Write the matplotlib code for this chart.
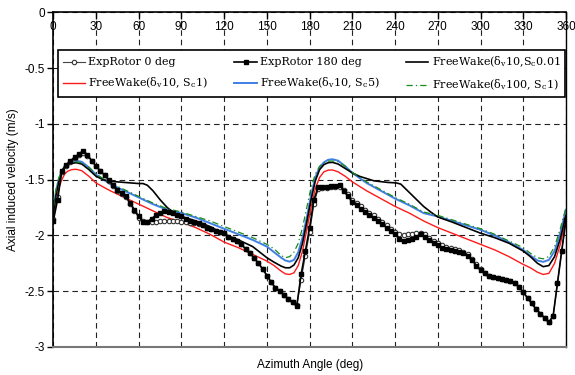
import matplotlib
matplotlib.use("Agg")
import matplotlib.pyplot as plt
from matplotlib.ticker import FuncFormatter

# measured data (every 3 deg)
exp_angle = list(range(0, 361, 3))

exp_180 = [-1.87, -1.68, -1.42, -1.37, -1.33, -1.30, -1.27, -1.24, -1.28, -1.33,
           -1.38, -1.42, -1.46, -1.50, -1.55, -1.59, -1.62, -1.65, -1.71, -1.77,
           -1.83, -1.88, -1.88, -1.85, -1.82, -1.80, -1.78, -1.79, -1.80, -1.82,
           -1.83, -1.85, -1.87, -1.88, -1.89, -1.91, -1.93, -1.94, -1.96, -1.97,
           -1.98, -2.01, -2.03, -2.05, -2.08, -2.12, -2.16, -2.20, -2.25, -2.30,
           -2.36, -2.42, -2.47, -2.50, -2.53, -2.57, -2.60, -2.63, -2.35, -2.14,
           -1.93, -1.68, -1.57, -1.57, -1.57, -1.56, -1.56, -1.55, -1.60, -1.65,
           -1.70, -1.73, -1.76, -1.79, -1.82, -1.84, -1.87, -1.90, -1.93, -1.96,
           -1.99, -2.03, -2.05, -2.04, -2.03, -2.01, -1.99, -2.01, -2.04, -2.07,
           -2.09, -2.11, -2.12, -2.13, -2.14, -2.15, -2.16, -2.18, -2.22, -2.27,
           -2.31, -2.34, -2.36, -2.37, -2.38, -2.39, -2.40, -2.41, -2.43, -2.46,
           -2.51, -2.56, -2.61, -2.66, -2.70, -2.74, -2.78, -2.72, -2.43, -2.14,
           -1.86]

exp_0 = [-1.85, -1.66, -1.43, -1.38, -1.34, -1.31, -1.28, -1.26, -1.29, -1.33,
         -1.38, -1.42, -1.46, -1.51, -1.56, -1.60, -1.63, -1.66, -1.72, -1.78,
         -1.84, -1.87, -1.88, -1.88, -1.88, -1.87, -1.87, -1.87, -1.87, -1.87,
         -1.88, -1.88, -1.89, -1.89, -1.90, -1.91, -1.93, -1.94, -1.96, -1.97,
         -1.98, -2.01, -2.03, -2.05, -2.08, -2.12, -2.16, -2.20, -2.25, -2.30,
         -2.36, -2.42, -2.47, -2.50, -2.53, -2.57, -2.60, -2.62, -2.40, -2.18,
         -1.97, -1.72, -1.58, -1.575, -1.575, -1.57, -1.57, -1.565, -1.59, -1.63,
         -1.68, -1.71, -1.74, -1.77, -1.80, -1.82, -1.85, -1.88, -1.91, -1.94,
         -1.97, -1.99, -2.00, -1.99, -1.99, -1.98, -1.98, -1.99, -2.02, -2.05,
         -2.07, -2.09, -2.10, -2.11, -2.12, -2.13, -2.15, -2.17, -2.21, -2.26,
         -2.30, -2.34, -2.36, -2.37, -2.38, -2.39, -2.40, -2.41, -2.43, -2.46,
         -2.51, -2.56, -2.61, -2.66, -2.70, -2.74, -2.78, -2.72, -2.43, -2.14,
         -1.86]

# free wake results
fw_angle = [0, 2, 4, 6, 8, 10, 13, 16, 20, 25, 30, 40, 50, 60, 70, 80, 90, 100,
            110, 120, 130, 140, 150, 155, 160, 163, 166, 169, 172, 175, 178, 181,
            184, 187, 190, 193, 196, 200, 205, 210, 220, 230, 240, 250, 260, 270,
            280, 290, 300, 310, 320, 330, 335, 340, 344, 348, 352, 356, 360]

fw_sc5 = [-1.77, -1.60, -1.49, -1.42, -1.38, -1.355, -1.335, -1.33, -1.34, -1.39,
          -1.455, -1.54, -1.60, -1.66, -1.72, -1.77, -1.80, -1.84, -1.89, -1.94,
          -1.99, -2.04, -2.10, -2.15, -2.20, -2.225, -2.235, -2.22, -2.15, -2.02,
          -1.84, -1.64, -1.48, -1.39, -1.345, -1.322, -1.317, -1.33, -1.38, -1.44,
          -1.53, -1.60, -1.67, -1.73, -1.80, -1.83, -1.87, -1.91, -1.95, -2.00,
          -2.06, -2.13, -2.18, -2.225, -2.237, -2.22, -2.14, -1.98, -1.77]

fw_sc1 = [-1.86, -1.68, -1.57, -1.50, -1.45, -1.425, -1.41, -1.407, -1.42, -1.47,
          -1.53, -1.60, -1.66, -1.72, -1.78, -1.84, -1.88, -1.93, -1.99, -2.06,
          -2.11, -2.17, -2.23, -2.27, -2.32, -2.345, -2.35, -2.335, -2.27, -2.14,
          -1.95, -1.75, -1.58, -1.48, -1.43, -1.415, -1.413, -1.43, -1.47, -1.52,
          -1.60, -1.67, -1.74, -1.80, -1.87, -1.93, -1.98, -2.03, -2.08, -2.13,
          -2.19, -2.26, -2.29, -2.33, -2.35, -2.34, -2.25, -2.08, -1.86]

fw_dv100 = [-1.75, -1.58, -1.48, -1.42, -1.38, -1.36, -1.345, -1.34, -1.35, -1.39,
            -1.45, -1.53, -1.59, -1.65, -1.71, -1.76, -1.79, -1.83, -1.87, -1.92,
            -1.97, -2.02, -2.08, -2.12, -2.18, -2.20, -2.19, -2.15, -2.07, -1.93,
            -1.75, -1.57, -1.45, -1.38, -1.35, -1.335, -1.333, -1.34, -1.38, -1.435,
            -1.52, -1.59, -1.66, -1.72, -1.79, -1.82, -1.86, -1.90, -1.94, -1.99,
            -2.05, -2.11, -2.16, -2.20, -2.21, -2.19, -2.10, -1.94, -1.75]

fw01_angle = [0, 2, 4, 6, 8, 10, 13, 16, 20, 25, 30, 35, 40, 45, 50, 55, 60, 63,
              66, 70, 75, 80, 85, 90, 100, 110, 120, 130, 140, 150, 155, 160, 163,
              166, 169, 172, 175, 178, 181, 184, 187, 190, 193, 196, 200, 205, 210,
              215, 220, 225, 230, 235, 238, 241, 244, 248, 252, 256, 260, 265, 270,
              280, 290, 300, 310, 320, 330, 335, 340, 344, 348, 352, 356, 360]

fw_sc001 = [-1.82, -1.63, -1.51, -1.44, -1.39, -1.37, -1.355, -1.348, -1.36, -1.41,
            -1.47, -1.50, -1.515, -1.52, -1.525, -1.53, -1.535, -1.535, -1.55, -1.60,
            -1.68, -1.75, -1.80, -1.83, -1.87, -1.92, -1.99, -2.04, -2.10, -2.20,
            -2.24, -2.275, -2.29, -2.29, -2.265, -2.20, -2.07, -1.88, -1.68, -1.51,
            -1.41, -1.365, -1.348, -1.345, -1.36, -1.40, -1.44, -1.47, -1.49, -1.51,
            -1.518, -1.525, -1.527, -1.53, -1.54, -1.59, -1.64, -1.69, -1.74, -1.79,
            -1.835, -1.88, -1.93, -1.98, -2.02, -2.07, -2.14, -2.19, -2.25, -2.28,
            -2.27, -2.19, -2.03, -1.82]

plt.rcParams["font.family"] = ["Liberation Sans", "DejaVu Sans"]
plt.rcParams["mathtext.fontset"] = "dejavuserif"

fig = plt.figure(figsize=(5.75, 3.75), dpi=100)
ax = fig.add_axes([0.0927, 0.0747, 0.8916, 0.8925])

l_red, = ax.plot(fw_angle, fw_sc1, color="#ff1a1a", lw=1.0)
l_blue, = ax.plot(fw_angle, fw_sc5, color="#3f7fe6", lw=1.4)
l_black, = ax.plot(fw01_angle, fw_sc001, color="black", lw=1.2)
l_green, = ax.plot(fw_angle, fw_dv100, color="#1a8a1a", lw=0.9,
                   linestyle=(0, (5, 2.5, 1, 2.5)))
l_e0, = ax.plot(exp_angle, exp_0, color="#444444", lw=0.8, marker="o",
                markersize=3.2, markerfacecolor="white", markeredgecolor="#333333",
                markeredgewidth=0.8)
l_e180, = ax.plot(exp_angle, exp_180, color="black", lw=1.2, marker="s",
                  markersize=2.6, markerfacecolor="black", markeredgecolor="black")

ax.set_xlim(0, 360)
ax.set_ylim(-3, 0)
ax.set_xticks(range(0, 361, 30))
ax.set_yticks([0, -0.5, -1, -1.5, -2, -2.5, -3])
ax.yaxis.set_major_formatter(FuncFormatter(lambda v, p: "%g" % v))

ax.grid(True, color="#222222", lw=0.8, linestyle=(0, (5, 3.5)))
ax.set_axisbelow(True)

ax.tick_params(axis="x", top=True, labeltop=True, bottom=False, labelbottom=False,
               direction="in", length=5, width=1, pad=-15, labelsize=8.5)
ax.tick_params(axis="y", direction="out", length=4, width=1, labelsize=8.5, pad=2)

for side in ["left", "top"]:
    ax.spines[side].set_linewidth(1.2)
ax.spines["right"].set_linewidth(1.0)
ax.spines["bottom"].set_color("#777777")
ax.spines["bottom"].set_linewidth(1.5)

ax.set_ylabel("Axial induced velocity (m/s)", fontsize=8.5, labelpad=4)
ax.text(0.5, -0.035, "Azimuth Angle (deg)", transform=ax.transAxes,
        ha="center", va="top", fontsize=8.5)

handles = [l_e0, l_red, l_e180, l_blue, l_black, l_green]
labels = ["ExpRotor 0 deg",
          r"FreeWake(δ$_\mathrm{v}$10, S$_\mathrm{c}$1)",
          "ExpRotor 180 deg",
          r"FreeWake(δ$_\mathrm{v}$10, S$_\mathrm{c}$5)",
          r"FreeWake(δ$_\mathrm{v}$10,S$_\mathrm{c}$0.01",
          r"FreeWake(δ$_\mathrm{v}$100, S$_\mathrm{c}$1)"]
leg = ax.legend(handles, labels, ncol=3, loc="lower left", mode="expand",
                bbox_to_anchor=(0.0098, 0.748, 0.988, 0.134), borderaxespad=0,
                prop={"family": "DejaVu Serif", "size": 8}, numpoints=1,
                handlelength=2.0, handletextpad=0.3, labelspacing=0.75,
                fancybox=False, framealpha=1, edgecolor="black")
leg.get_frame().set_linewidth(1.2)

plt.savefig("out.png", dpi=100)
